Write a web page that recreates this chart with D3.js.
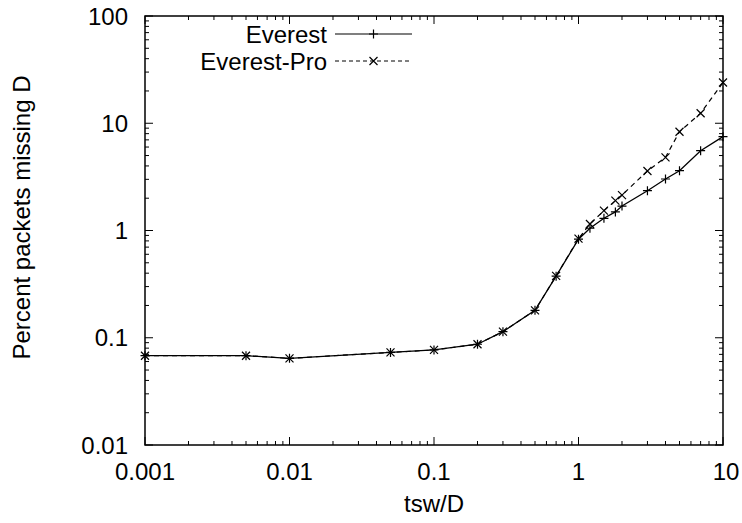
<!DOCTYPE html>
<html><head><meta charset="utf-8">
<script src="https://cdn.jsdelivr.net/npm/d3@7"></script>
<style>body{margin:0;background:#fff}svg{display:block}text{font-family:"Liberation Sans",Arial,sans-serif;fill:#000}</style>
</head><body><svg id="c" width="742" height="523"></svg>
<script>
const xValues = [0.001, 0.005, 0.01, 0.05, 0.1, 0.2, 0.3, 0.5, 0.7, 1, 1.2, 1.5, 1.8, 2, 3, 4, 5, 7, 10];
const everest = [0.068, 0.068, 0.0643, 0.073, 0.077, 0.087, 0.114, 0.18, 0.375, 0.83, 1.05, 1.30, 1.49, 1.69, 2.35, 3.02, 3.61, 5.55, 7.5];
const everestPro = [0.068, 0.068, 0.0643, 0.073, 0.077, 0.087, 0.114, 0.18, 0.377, 0.84, 1.15, 1.53, 1.90, 2.14, 3.59, 4.81, 8.34, 12.4, 24];
const xTicks = [0.001, 0.01, 0.1, 1, 10];
const xTickLabels = ["0.001", "0.01", "0.1", "1", "10"];
const yTicks = [0.01, 0.1, 1, 10, 100];
const yTickLabels = ["0.01", "0.1", "1", "10", "100"];
const seriesNames = ["Everest", "Everest-Pro"];
const xTitle = "tsw/D";
const yTitle = "Percent packets missing D";

const L = 145, R = 723, T = 16, B = 445;
const svg = d3.select("#c");
const x = d3.scaleLog().domain([0.001, 10]).range([L, R]);
const y = d3.scaleLog().domain([0.01, 100]).range([B, T]);

function minors(dom) {
  const out = [];
  for (let e = Math.round(Math.log10(dom[0])); e < Math.round(Math.log10(dom[1])); e++)
    for (let k = 2; k <= 9; k++) out.push(k * Math.pow(10, e));
  return out;
}
const g = svg.append("g");
const maj = 8, mn = 4;
// x ticks (bottom and top)
xTicks.forEach(v => {
  g.append("line").attr("x1", x(v)).attr("x2", x(v)).attr("y1", B).attr("y2", B - maj).attr("stroke", "#000");
  g.append("line").attr("x1", x(v)).attr("x2", x(v)).attr("y1", T).attr("y2", T + maj).attr("stroke", "#000");
});
minors(x.domain()).forEach(v => {
  g.append("line").attr("x1", x(v)).attr("x2", x(v)).attr("y1", B).attr("y2", B - mn).attr("stroke", "#000");
  g.append("line").attr("x1", x(v)).attr("x2", x(v)).attr("y1", T).attr("y2", T + mn).attr("stroke", "#000");
});
yTicks.forEach(v => {
  g.append("line").attr("y1", y(v)).attr("y2", y(v)).attr("x1", L).attr("x2", L + maj).attr("stroke", "#000");
  g.append("line").attr("y1", y(v)).attr("y2", y(v)).attr("x1", R).attr("x2", R - maj).attr("stroke", "#000");
});
minors(y.domain()).forEach(v => {
  g.append("line").attr("y1", y(v)).attr("y2", y(v)).attr("x1", L).attr("x2", L + mn).attr("stroke", "#000");
  g.append("line").attr("y1", y(v)).attr("y2", y(v)).attr("x1", R).attr("x2", R - mn).attr("stroke", "#000");
});
g.append("rect").attr("x", L).attr("y", T).attr("width", R - L).attr("height", B - T)
  .attr("fill", "none").attr("stroke", "#000").attr("stroke-width", 1.5);

// tick labels
xTicks.forEach((v, i) => {
  g.append("text").attr("x", x(v) + (i === xTicks.length - 1 ? 3 : 0)).attr("y", 480).attr("text-anchor", "middle")
    .attr("font-size", 24).text(xTickLabels[i]);
});
yTicks.forEach((v, i) => {
  g.append("text").attr("x", 128).attr("y", y(v) + 8.5).attr("text-anchor", "end")
    .attr("font-size", 24).text(yTickLabels[i]);
});
g.append("text").attr("x", (L + R) / 2).attr("y", 512).attr("text-anchor", "middle").attr("font-size", 24).text(xTitle);
g.append("text").attr("transform", `translate(30,${(T + B) / 2 - 13}) rotate(-90)`).attr("text-anchor", "middle")
  .attr("font-size", 24).text(yTitle);

const line = d3.line().x(d => x(d[0])).y(d => y(d[1]));
const dEv = xValues.map((v, i) => [v, everest[i]]);
const dPro = xValues.map((v, i) => [v, everestPro[i]]);

function plus(sel, cx, cy) {
  const s = 4.5;
  sel.append("path").attr("d", `M${cx - s},${cy}H${cx + s}M${cx},${cy - s}V${cy + s}`).attr("stroke", "#000").attr("stroke-width", 1.2).attr("fill", "none");
}
function cross(sel, cx, cy) {
  const s = 4;
  sel.append("path").attr("d", `M${cx - s},${cy - s}L${cx + s},${cy + s}M${cx - s},${cy + s}L${cx + s},${cy - s}`).attr("stroke", "#000").attr("stroke-width", 1.2).attr("fill", "none");
}
const clip = svg.append("clipPath").attr("id", "clp").append("rect").attr("x", L).attr("y", T).attr("width", R - L).attr("height", B - T);
const pg = svg.append("g");
pg.append("path").datum(dPro).attr("d", line).attr("fill", "none").attr("stroke", "#000").attr("stroke-width", 1.2).attr("stroke-dasharray", "5,4");
pg.append("path").datum(dEv).attr("d", line).attr("fill", "none").attr("stroke", "#000").attr("stroke-width", 1.3);
dEv.forEach(d => plus(pg, x(d[0]), y(d[1])));
dPro.forEach(d => cross(pg, x(d[0]), y(d[1])));

// legend
const lg = svg.append("g");
const ly = [34, 61];
seriesNames.forEach((n, i) => {
  lg.append("text").attr("x", 327).attr("y", ly[i] + 8.5).attr("text-anchor", "end").attr("font-size", 24).text(n);
  const ln = lg.append("line").attr("x1", 335).attr("x2", 412).attr("y1", ly[i]).attr("y2", ly[i]).attr("stroke", "#000").attr("stroke-width", i ? 1 : 1.2);
  if (i) ln.attr("stroke-dasharray", "4,3");
  if (i) cross(lg, 373.5, ly[i]); else plus(lg, 373.5, ly[i]);
});
</script></body></html>
